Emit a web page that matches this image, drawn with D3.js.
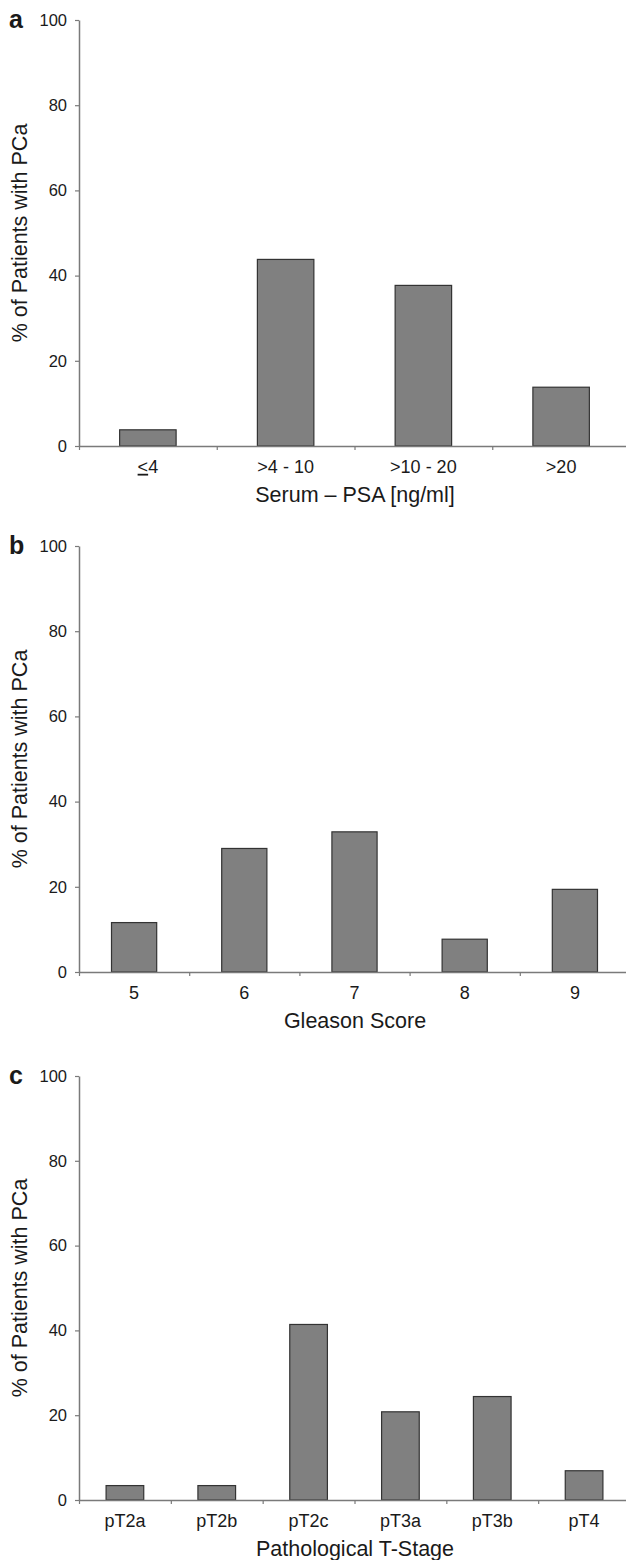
<!DOCTYPE html>
<html>
<head>
<meta charset="utf-8">
<script src="https://cdn.jsdelivr.net/npm/d3@7"></script>
<style>
  body { margin: 0; background: #fff; }
  text { font-family: "Liberation Sans", Arial, sans-serif; fill: #1a1a1a; }
</style>
</head>
<body>
<div class="chart"></div>
<script>
// chart data
var yTicks = [0, 20, 40, 60, 80, 100];

var psaCats = ["<4", ">4 - 10", ">10 - 20", ">20"];
var psaValues = [3.8, 43.8, 37.7, 13.8];

var gleasonCats = ["5", "6", "7", "8", "9"];
var gleasonValues = [11.6, 29.0, 32.9, 7.7, 19.4];

var stageCats = ["pT2a", "pT2b", "pT2c", "pT3a", "pT3b", "pT4"];
var stageValues = [3.4, 3.4, 41.4, 20.8, 24.4, 6.9];

// svg params
var svgWidth = 626;
var svgHeight = 1560;
var axisLeft = 79;
var axisRight = 630;

var svg = d3.select(".chart")
  .append("svg")
  .attr("width", svgWidth)
  .attr("height", svgHeight);

// draw one panel of the figure
function drawPanel(cats, values, top, bottom, letter, title) {
  var g = svg.append("g");

  var yScale = d3.scaleLinear()
    .domain([0, 100])
    .range([bottom, top]);

  var xScale = d3.scaleBand()
    .domain(cats)
    .range([axisLeft, axisRight])
    .paddingInner(0.59)
    .paddingOuter(0.295);

  // boundary ticks sit between the categories
  var xEdges = d3.scaleLinear()
    .domain([0, cats.length])
    .range([axisLeft, axisRight]);

  // bars
  g.selectAll("rect")
    .data(values)
    .enter()
    .append("rect")
    .attr("x", (d, i) => xScale(cats[i]))
    .attr("y", d => yScale(d))
    .attr("width", xScale.bandwidth())
    .attr("height", d => yScale(0) - yScale(d))
    .attr("fill", "#808080")
    .attr("stroke", "#333")
    .attr("stroke-width", 1.2);

  // y axis
  var yAxis = g.append("g")
    .attr("transform", `translate(${axisLeft}, 0)`)
    .call(d3.axisLeft(yScale).tickValues(yTicks).tickSize(4).tickSizeOuter(0).tickPadding(8));
  yAxis.selectAll("text").attr("font-size", 16.5).attr("font-family", null);

  // x axis: edge ticks
  var xTickAxis = g.append("g")
    .attr("transform", `translate(0, ${bottom})`)
    .call(d3.axisBottom(xEdges).tickValues(d3.range(cats.length + 1)).tickFormat("").tickSize(4).tickSizeOuter(0));

  // x axis: category labels
  var xLabAxis = g.append("g")
    .attr("transform", `translate(0, ${bottom})`)
    .call(d3.axisBottom(xScale).tickSize(0).tickPadding(14));
  xLabAxis.select(".domain").remove();
  xLabAxis.selectAll("text").attr("font-size", 18).attr("font-family", null);

  [yAxis, xTickAxis].forEach(function(a) {
    a.select(".domain").attr("stroke", "#7a7a7a").attr("stroke-width", 1.5);
    a.selectAll(".tick line").attr("stroke", "#7a7a7a").attr("stroke-width", 1.2);
  });

  // the "<4" label has an underlined "<" (i.e. less or equal)
  xLabAxis.selectAll("text")
    .filter(d => d === "<4")
    .text(null)
    .call(function(t) {
      t.append("tspan").attr("text-decoration", "underline").text("<");
      t.append("tspan").text("4");
    });

  // axis titles
  g.append("text")
    .attr("x", 355)
    .attr("y", bottom + 56)
    .attr("text-anchor", "middle")
    .attr("font-size", 21.5)
    .text(title);

  g.append("text")
    .attr("transform", `translate(27, ${(top + bottom) / 2}) rotate(-90)`)
    .attr("text-anchor", "middle")
    .attr("font-size", 21.5)
    .text("% of Patients with PCa");

  // panel letter
  g.append("text")
    .attr("x", 9)
    .attr("y", top + 8)
    .attr("font-size", 25)
    .attr("font-weight", "bold")
    .text(letter);
}

drawPanel(psaCats, psaValues, 20, 446, "a", "Serum \u2013 PSA [ng/ml]");
drawPanel(gleasonCats, gleasonValues, 546, 972, "b", "Gleason Score");
drawPanel(stageCats, stageValues, 1076, 1500, "c", "Pathological T-Stage");
</script>
</body>
</html>
